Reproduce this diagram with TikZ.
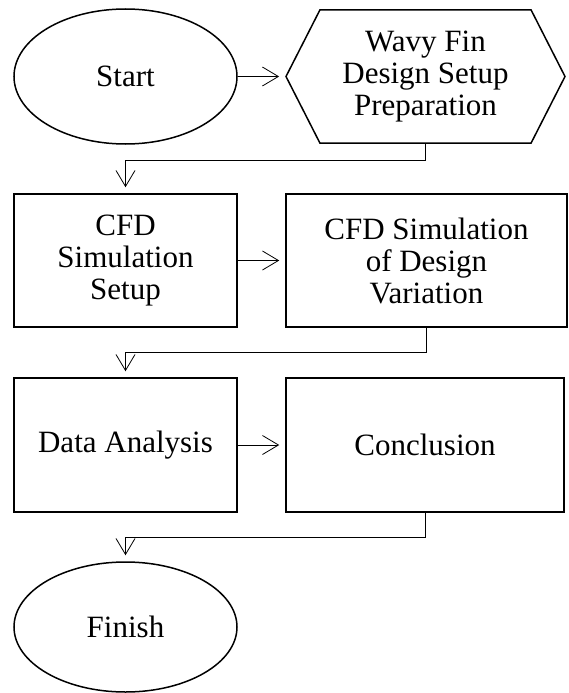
\documentclass[tikz,border=0pt]{standalone}
\usepackage{fontspec}
\setmainfont{Liberation Serif}
\usetikzlibrary{arrows.meta,positioning,shapes.geometric,shapes.symbols}

\begin{document}
\begin{tikzpicture}[x=1pt,y=-1pt,
    font=\fontsize{31}{32}\selectfont,
    term/.style={ellipse,draw,line width=1.5pt,minimum width=223pt},
    proc/.style={rectangle,draw,line width=1.5pt,align=center,minimum height=133pt},
    prep/.style={signal,signal to=east and west,signal pointer angle=126,draw,
      line width=1.5pt,align=center,minimum width=279pt,minimum height=133pt},
    flow/.style={-{Straight Barb[length=16pt,width=19pt]},line width=0.8pt,shorten >=6pt}]
  \useasboundingbox (0,0) rectangle (568,693);

  % first row
  \node[term,minimum height=135pt] (start) at (125.5,76.5) {Start};
  \node[prep] (setup) at (425.5,76.5) {Wavy Fin\\Design Setup\\Preparation};

  % second row
  \node[proc,minimum width=223pt] (cfd) at (125.5,260.5) {CFD\\Simulation\\Setup};
  \node[proc,minimum width=281pt] (var) at (426.5,260.5) {CFD Simulation\\of Design\\Variation};

  % third row
  \node[proc,minimum width=223pt,minimum height=134pt] (data) at (125.5,445) {Data Analysis};
  \node[proc,minimum width=278pt,minimum height=134pt] (concl) at (425,445) {Conclusion};

  % end
  \node[term,minimum height=130pt] (finish) at (125.5,627) {Finish};

  \draw[flow] (start) -- (setup);
  \draw[flow] (setup.south) -- ++(0,17) -| (cfd.north);
  \draw[flow] (cfd) -- (var);
  \draw[flow] (var.south) -- ++(0,25) -| (data.north);
  \draw[flow] (data) -- (concl);
  \draw[flow] (concl.south) -- ++(0,25) -| (finish.north);
\end{tikzpicture}
\end{document}
